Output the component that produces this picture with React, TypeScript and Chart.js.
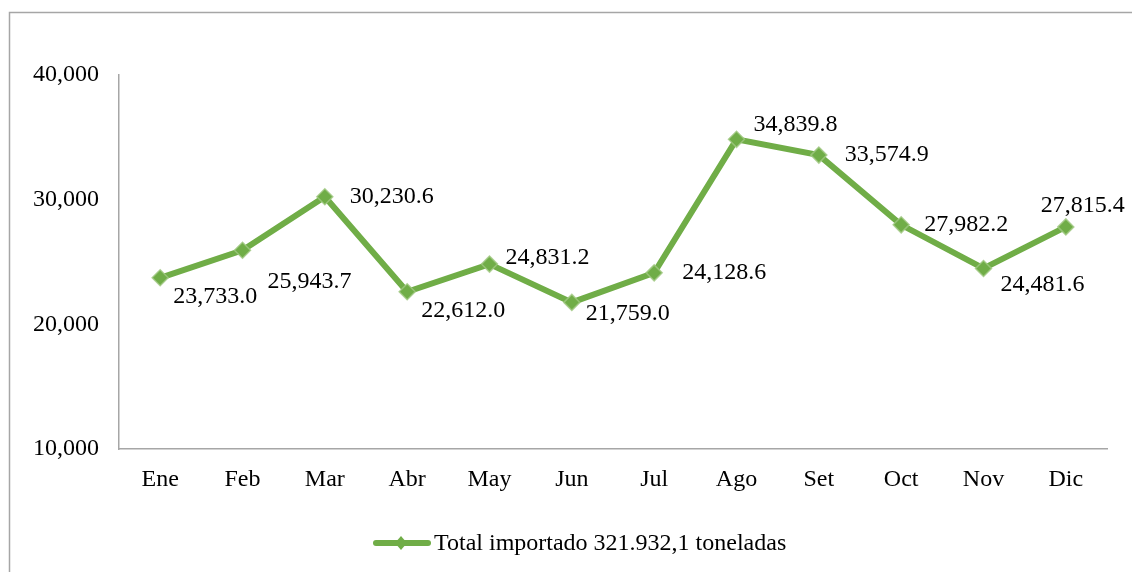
import React, { useEffect, useRef } from "react";
import { Chart, registerables } from "chart.js";

Chart.register(...registerables);

const months = ["Ene", "Feb", "Mar", "Abr", "May", "Jun", "Jul", "Ago", "Set", "Oct", "Nov", "Dic"];
const values = [23733.0, 25943.7, 30230.6, 22612.0, 24831.2, 21759.0, 24128.6, 34839.8, 33574.9, 27982.2, 24481.6, 27815.4];
const seriesLabel = "Total importado 321.932,1 toneladas";
const yTicks = [10000, 20000, 30000, 40000];

// label offsets (pixels) relative to each point
const labelDx = [55, 67, 67, 56, 58, 56, 70, 59, 68, 65, 59, 17];
const labelDy = [19, 31, 0, 19, -6, 11, 0, -15, 0, 0, 16, -21];

const GREEN = "#70AD47";
const FONT = "'Liberation Serif', 'Times New Roman', serif";

const fmt = (v: number, d: number) =>
  v.toLocaleString("en-US", { minimumFractionDigits: d, maximumFractionDigits: d });

const decorPlugin = {
  id: "decor",
  beforeDraw(chart: any) {
    const ctx = chart.ctx;
    ctx.save();
    ctx.strokeStyle = "#A6A6A6";
    ctx.lineWidth = 1.5;
    ctx.beginPath();
    ctx.moveTo(9.5, 600);
    ctx.lineTo(9.5, 12.5);
    ctx.lineTo(1140, 12.5);
    ctx.stroke();
    ctx.restore();
  },
  afterDatasetsDraw(chart: any) {
    const ctx = chart.ctx;
    const meta = chart.getDatasetMeta(0);
    ctx.save();
    ctx.font = `24px ${FONT}`;
    ctx.fillStyle = "#000";
    ctx.textAlign = "center";
    ctx.textBaseline = "middle";
    meta.data.forEach((pt: any, i: number) => {
      ctx.fillText(fmt(values[i], 1), pt.x + labelDx[i], pt.y + labelDy[i]);
    });
    // legend
    const ly = 543;
    ctx.strokeStyle = GREEN;
    ctx.lineWidth = 6;
    ctx.lineCap = "round";
    ctx.beginPath();
    ctx.moveTo(376, ly);
    ctx.lineTo(428, ly);
    ctx.stroke();
    ctx.fillStyle = GREEN;
    ctx.beginPath();
    ctx.moveTo(401, ly - 7);
    ctx.lineTo(407, ly);
    ctx.lineTo(401, ly + 7);
    ctx.lineTo(395, ly);
    ctx.closePath();
    ctx.fill();
    ctx.fillStyle = "#000";
    ctx.textAlign = "left";
    ctx.fillText(seriesLabel, 434, ly + 1);
    ctx.restore();
  },
};

export default function App() {
  const ref = useRef<HTMLCanvasElement>(null);
  useEffect(() => {
    if (!ref.current) return;
    const chart = new Chart(ref.current, {
      type: "line",
      data: {
        labels: months,
        datasets: [
          {
            label: seriesLabel,
            data: values,
            borderColor: GREEN,
            backgroundColor: GREEN,
            borderWidth: 6,
            tension: 0,
            pointStyle: "rectRot",
            pointRadius: 8,
            pointBorderColor: "rgba(160,200,130,0.8)",
            pointBorderWidth: 1.5,
            pointBackgroundColor: GREEN,
          },
        ],
      },
      options: {
        animation: false,
        responsive: false,
        layout: { padding: { top: 75, right: 25, bottom: 0, left: 0 } },
        plugins: { legend: { display: false }, tooltip: { enabled: false } },
        scales: {
          x: {
            offset: true,
            grid: { display: false, drawTicks: false },
            border: { display: true, color: "#A6A6A6", width: 1.5 },
            ticks: { color: "#000", font: { family: FONT, size: 24 }, padding: 16, maxRotation: 0 },
            afterFit: (s: any) => {
              s.height = 123;
            },
          },
          y: {
            min: 10000,
            max: 40000,
            afterBuildTicks: (s: any) => {
              s.ticks = yTicks.map((v) => ({ value: v }));
            },
            grid: { display: false, drawTicks: false },
            border: { display: true, color: "#A6A6A6", width: 1.5 },
            ticks: {
              color: "#000",
              font: { family: FONT, size: 24 },
              padding: 20,
              callback: (v: any) => fmt(Number(v), 0),
            },
            afterFit: (s: any) => {
              s.width = 119;
            },
          },
        },
      },
      plugins: [decorPlugin],
    });
    return () => chart.destroy();
  }, []);
  return (
    <div style={{ position: "absolute", left: 0, top: 0, width: 1132, height: 572, background: "#fff" }}>
      <canvas ref={ref} width={1132} height={572} style={{ width: 1132, height: 572 }} />
    </div>
  );
}
